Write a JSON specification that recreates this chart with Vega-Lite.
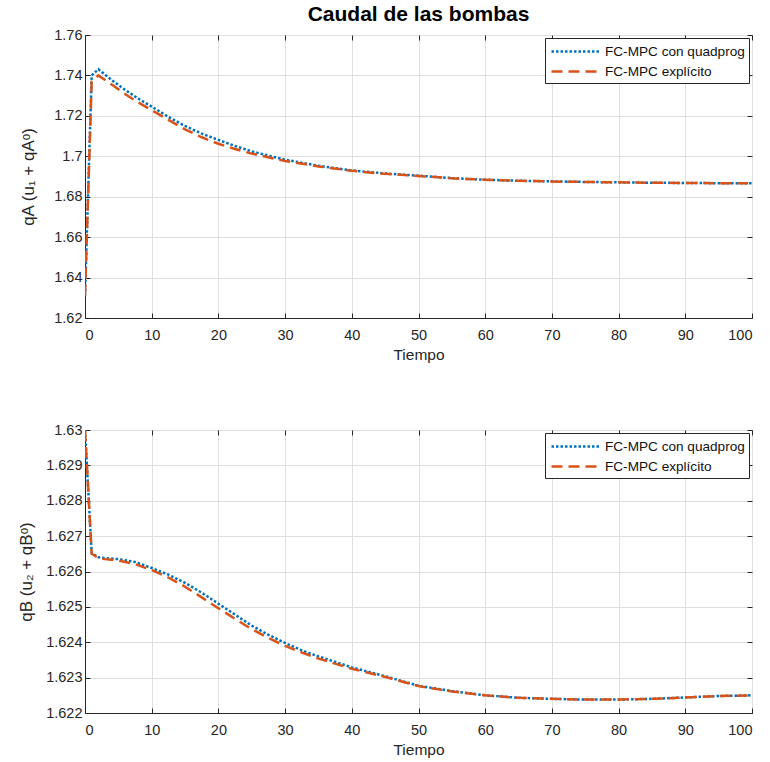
{
  "$schema": "https://vega.github.io/schema/vega-lite/v6.json",
  "background": "white",
  "padding": {"left": 17, "top": 3, "right": 4, "bottom": 4},
  "config": {
    "font": "Liberation Sans",
    "view": {"stroke": "#262626", "strokeWidth": 1},
    "axis": {
      "domainColor": "#262626",
      "tickColor": "#262626",
      "tickSize": -5,
      "labelColor": "#262626",
      "labelFontSize": 14.5,
      "labelFont": "Liberation Sans",
      "titleColor": "#262626",
      "titleFontSize": 15.5,
      "titleFontWeight": "normal",
      "gridColor": "#dfdfdf",
      "gridWidth": 1,
      "labelPadding": 8
    },
    "legend": {
      "orient": "top-right",
      "offset": 3,
      "fillColor": "white",
      "strokeColor": "#262626",
      "padding": 4,
      "rowPadding": 3,
      "symbolType": "M-3,0H3",
      "symbolSize": 256,
      "symbolOffset": 17,
      "symbolStrokeWidth": 2.5,
      "labelFontSize": 13.6,
      "labelColor": "#111111",
      "labelLimit": 300,
      "labelOffset": 20
    }
  },
  "datasets": {
    "top": [
      {"t": 0, "q": 1.631, "s": "FC-MPC con quadprog"},
      {"t": 1, "q": 1.740, "s": "FC-MPC con quadprog"},
      {"t": 2, "q": 1.7431, "s": "FC-MPC con quadprog"},
      {"t": 4, "q": 1.7377, "s": "FC-MPC con quadprog"},
      {"t": 6, "q": 1.7329, "s": "FC-MPC con quadprog"},
      {"t": 8, "q": 1.7285, "s": "FC-MPC con quadprog"},
      {"t": 10, "q": 1.7246, "s": "FC-MPC con quadprog"},
      {"t": 12.5, "q": 1.7195, "s": "FC-MPC con quadprog"},
      {"t": 15, "q": 1.7150, "s": "FC-MPC con quadprog"},
      {"t": 17.5, "q": 1.7112, "s": "FC-MPC con quadprog"},
      {"t": 20, "q": 1.7081, "s": "FC-MPC con quadprog"},
      {"t": 22.5, "q": 1.7051, "s": "FC-MPC con quadprog"},
      {"t": 25, "q": 1.7024, "s": "FC-MPC con quadprog"},
      {"t": 30, "q": 1.6983, "s": "FC-MPC con quadprog"},
      {"t": 35, "q": 1.6953, "s": "FC-MPC con quadprog"},
      {"t": 40, "q": 1.6930, "s": "FC-MPC con quadprog"},
      {"t": 45, "q": 1.6915, "s": "FC-MPC con quadprog"},
      {"t": 50, "q": 1.6904, "s": "FC-MPC con quadprog"},
      {"t": 55, "q": 1.6892, "s": "FC-MPC con quadprog"},
      {"t": 60, "q": 1.6884, "s": "FC-MPC con quadprog"},
      {"t": 65, "q": 1.6879, "s": "FC-MPC con quadprog"},
      {"t": 70, "q": 1.6876, "s": "FC-MPC con quadprog"},
      {"t": 75, "q": 1.6873, "s": "FC-MPC con quadprog"},
      {"t": 80, "q": 1.6871, "s": "FC-MPC con quadprog"},
      {"t": 85, "q": 1.6869, "s": "FC-MPC con quadprog"},
      {"t": 90, "q": 1.6868, "s": "FC-MPC con quadprog"},
      {"t": 95, "q": 1.6867, "s": "FC-MPC con quadprog"},
      {"t": 100, "q": 1.6866, "s": "FC-MPC con quadprog"},
      {"t": 0, "q": 1.631, "s": "FC-MPC explícito"},
      {"t": 1, "q": 1.737, "s": "FC-MPC explícito"},
      {"t": 2, "q": 1.7400, "s": "FC-MPC explícito"},
      {"t": 4, "q": 1.7355, "s": "FC-MPC explícito"},
      {"t": 6, "q": 1.7308, "s": "FC-MPC explícito"},
      {"t": 8, "q": 1.7266, "s": "FC-MPC explícito"},
      {"t": 10, "q": 1.7228, "s": "FC-MPC explícito"},
      {"t": 12.5, "q": 1.7180, "s": "FC-MPC explícito"},
      {"t": 15, "q": 1.7133, "s": "FC-MPC explícito"},
      {"t": 17.5, "q": 1.7094, "s": "FC-MPC explícito"},
      {"t": 20, "q": 1.7062, "s": "FC-MPC explícito"},
      {"t": 22.5, "q": 1.7036, "s": "FC-MPC explícito"},
      {"t": 25, "q": 1.7013, "s": "FC-MPC explícito"},
      {"t": 30, "q": 1.6977, "s": "FC-MPC explícito"},
      {"t": 35, "q": 1.6950, "s": "FC-MPC explícito"},
      {"t": 40, "q": 1.6928, "s": "FC-MPC explícito"},
      {"t": 45, "q": 1.6913, "s": "FC-MPC explícito"},
      {"t": 50, "q": 1.6903, "s": "FC-MPC explícito"},
      {"t": 55, "q": 1.6891, "s": "FC-MPC explícito"},
      {"t": 60, "q": 1.6884, "s": "FC-MPC explícito"},
      {"t": 65, "q": 1.6879, "s": "FC-MPC explícito"},
      {"t": 70, "q": 1.6875, "s": "FC-MPC explícito"},
      {"t": 75, "q": 1.6873, "s": "FC-MPC explícito"},
      {"t": 80, "q": 1.6871, "s": "FC-MPC explícito"},
      {"t": 85, "q": 1.6869, "s": "FC-MPC explícito"},
      {"t": 90, "q": 1.6868, "s": "FC-MPC explícito"},
      {"t": 95, "q": 1.6867, "s": "FC-MPC explícito"},
      {"t": 100, "q": 1.6866, "s": "FC-MPC explícito"}
    ],
    "bottom": [
      {"t": 0, "q": 1.6300, "s": "FC-MPC con quadprog"},
      {"t": 1, "q": 1.62652, "s": "FC-MPC con quadprog"},
      {"t": 2, "q": 1.62640, "s": "FC-MPC con quadprog"},
      {"t": 3, "q": 1.62638, "s": "FC-MPC con quadprog"},
      {"t": 5, "q": 1.62635, "s": "FC-MPC con quadprog"},
      {"t": 7.5, "q": 1.62627, "s": "FC-MPC con quadprog"},
      {"t": 10, "q": 1.62610, "s": "FC-MPC con quadprog"},
      {"t": 12.5, "q": 1.62591, "s": "FC-MPC con quadprog"},
      {"t": 15, "q": 1.62568, "s": "FC-MPC con quadprog"},
      {"t": 17.5, "q": 1.62540, "s": "FC-MPC con quadprog"},
      {"t": 20, "q": 1.62509, "s": "FC-MPC con quadprog"},
      {"t": 22.5, "q": 1.62478, "s": "FC-MPC con quadprog"},
      {"t": 25, "q": 1.62447, "s": "FC-MPC con quadprog"},
      {"t": 27.5, "q": 1.62421, "s": "FC-MPC con quadprog"},
      {"t": 30, "q": 1.62398, "s": "FC-MPC con quadprog"},
      {"t": 32.5, "q": 1.62377, "s": "FC-MPC con quadprog"},
      {"t": 35, "q": 1.62360, "s": "FC-MPC con quadprog"},
      {"t": 40, "q": 1.62329, "s": "FC-MPC con quadprog"},
      {"t": 45, "q": 1.62304, "s": "FC-MPC con quadprog"},
      {"t": 50, "q": 1.62277, "s": "FC-MPC con quadprog"},
      {"t": 55, "q": 1.62262, "s": "FC-MPC con quadprog"},
      {"t": 60, "q": 1.62250, "s": "FC-MPC con quadprog"},
      {"t": 65, "q": 1.62243, "s": "FC-MPC con quadprog"},
      {"t": 70, "q": 1.62240, "s": "FC-MPC con quadprog"},
      {"t": 75, "q": 1.62238, "s": "FC-MPC con quadprog"},
      {"t": 80, "q": 1.62238, "s": "FC-MPC con quadprog"},
      {"t": 85, "q": 1.62240, "s": "FC-MPC con quadprog"},
      {"t": 90, "q": 1.62244, "s": "FC-MPC con quadprog"},
      {"t": 95, "q": 1.62248, "s": "FC-MPC con quadprog"},
      {"t": 100, "q": 1.62250, "s": "FC-MPC con quadprog"},
      {"t": 0, "q": 1.6300, "s": "FC-MPC explícito"},
      {"t": 1, "q": 1.62650, "s": "FC-MPC explícito"},
      {"t": 2, "q": 1.62638, "s": "FC-MPC explícito"},
      {"t": 3, "q": 1.62635, "s": "FC-MPC explícito"},
      {"t": 5, "q": 1.62631, "s": "FC-MPC explícito"},
      {"t": 7.5, "q": 1.62621, "s": "FC-MPC explícito"},
      {"t": 10, "q": 1.62604, "s": "FC-MPC explícito"},
      {"t": 12.5, "q": 1.62583, "s": "FC-MPC explícito"},
      {"t": 15, "q": 1.62557, "s": "FC-MPC explícito"},
      {"t": 17.5, "q": 1.62527, "s": "FC-MPC explícito"},
      {"t": 20, "q": 1.62496, "s": "FC-MPC explícito"},
      {"t": 22.5, "q": 1.62466, "s": "FC-MPC explícito"},
      {"t": 25, "q": 1.62437, "s": "FC-MPC explícito"},
      {"t": 27.5, "q": 1.62412, "s": "FC-MPC explícito"},
      {"t": 30, "q": 1.62390, "s": "FC-MPC explícito"},
      {"t": 32.5, "q": 1.62371, "s": "FC-MPC explícito"},
      {"t": 35, "q": 1.62354, "s": "FC-MPC explícito"},
      {"t": 40, "q": 1.62325, "s": "FC-MPC explícito"},
      {"t": 45, "q": 1.62302, "s": "FC-MPC explícito"},
      {"t": 50, "q": 1.62276, "s": "FC-MPC explícito"},
      {"t": 55, "q": 1.62261, "s": "FC-MPC explícito"},
      {"t": 60, "q": 1.62250, "s": "FC-MPC explícito"},
      {"t": 65, "q": 1.62243, "s": "FC-MPC explícito"},
      {"t": 70, "q": 1.62240, "s": "FC-MPC explícito"},
      {"t": 75, "q": 1.62238, "s": "FC-MPC explícito"},
      {"t": 80, "q": 1.62238, "s": "FC-MPC explícito"},
      {"t": 85, "q": 1.62240, "s": "FC-MPC explícito"},
      {"t": 90, "q": 1.62244, "s": "FC-MPC explícito"},
      {"t": 95, "q": 1.62248, "s": "FC-MPC explícito"},
      {"t": 100, "q": 1.62250, "s": "FC-MPC explícito"}
    ]
  },
  "spacing": 57,
  "vconcat": [
    {
      "title": {"text": "Caudal de las bombas", "fontSize": 21, "fontWeight": "bold", "color": "#000000", "anchor": "middle", "offset": 2},
      "width": 667,
      "height": 283,
      "data": {"name": "top"},
      "layer": [
        {
          "mark": {"type": "line", "strokeWidth": 2.5, "interpolate": "linear", "clip": true},
          "encoding": {
            "x": {"field": "t", "type": "quantitative", "title": "Tiempo",
                  "scale": {"domain": [0, 100], "nice": false},
                  "axis": {"values": [0, 10, 20, 30, 40, 50, 60, 70, 80, 90, 100], "titlePadding": 6, "labelPadding": 15}},
            "y": {"field": "q", "type": "quantitative", "title": "qA (u₁ + qAᵒ)",
                  "scale": {"domain": [1.62, 1.76], "nice": false, "zero": false},
                  "axis": {"values": [1.62, 1.64, 1.66, 1.68, 1.7, 1.72, 1.74, 1.76], "format": ".2~f", "titlePadding": 16, "titleFontSize": 17}},
            "color": {"field": "s", "type": "nominal", "title": null,
                      "scale": {"domain": ["FC-MPC con quadprog", "FC-MPC explícito"], "range": ["#0072BD", "#D95319"]}},
            "strokeDash": {"field": "s", "type": "nominal", "title": null,
                      "scale": {"domain": ["FC-MPC con quadprog", "FC-MPC explícito"], "range": [[2.5, 2], [11, 6]]}}
          }
        },
        {
          "mark": {"type": "point", "opacity": 0},
          "encoding": {
            "x": {"field": "t", "type": "quantitative",
                  "axis": {"orient": "top", "values": [0, 10, 20, 30, 40, 50, 60, 70, 80, 90, 100], "labels": false, "grid": false, "title": null, "domain": false}},
            "y": {"field": "q", "type": "quantitative",
                  "axis": {"orient": "right", "values": [1.62, 1.64, 1.66, 1.68, 1.7, 1.72, 1.74, 1.76], "labels": false, "grid": false, "title": null, "domain": false}}
          }
        }
      ],
      "resolve": {"axis": {"x": "independent", "y": "independent"}}
    },
    {
      "width": 667,
      "height": 283,
      "data": {"name": "bottom"},
      "layer": [
        {
          "mark": {"type": "line", "strokeWidth": 2.5, "interpolate": "linear", "clip": true},
          "encoding": {
            "x": {"field": "t", "type": "quantitative", "title": "Tiempo",
                  "scale": {"domain": [0, 100], "nice": false},
                  "axis": {"values": [0, 10, 20, 30, 40, 50, 60, 70, 80, 90, 100], "titlePadding": 6, "labelPadding": 15}},
            "y": {"field": "q", "type": "quantitative", "title": "qB (u₂ + qBᵒ)",
                  "scale": {"domain": [1.622, 1.63], "nice": false, "zero": false},
                  "axis": {"values": [1.622, 1.623, 1.624, 1.625, 1.626, 1.627, 1.628, 1.629, 1.63], "format": ".3~f", "titlePadding": 10, "titleFontSize": 17}},
            "color": {"field": "s", "type": "nominal", "title": null,
                      "scale": {"domain": ["FC-MPC con quadprog", "FC-MPC explícito"], "range": ["#0072BD", "#D95319"]}},
            "strokeDash": {"field": "s", "type": "nominal", "title": null,
                      "scale": {"domain": ["FC-MPC con quadprog", "FC-MPC explícito"], "range": [[2.5, 2], [11, 6]]}}
          }
        },
        {
          "mark": {"type": "point", "opacity": 0},
          "encoding": {
            "x": {"field": "t", "type": "quantitative",
                  "axis": {"orient": "top", "values": [0, 10, 20, 30, 40, 50, 60, 70, 80, 90, 100], "labels": false, "grid": false, "title": null, "domain": false}},
            "y": {"field": "q", "type": "quantitative",
                  "axis": {"orient": "right", "values": [1.622, 1.623, 1.624, 1.625, 1.626, 1.627, 1.628, 1.629, 1.63], "labels": false, "grid": false, "title": null, "domain": false}}
          }
        }
      ],
      "resolve": {"axis": {"x": "independent", "y": "independent"}}
    }
  ],
  "resolve": {"scale": {"color": "independent", "strokeDash": "independent", "y": "independent"}, "legend": {"color": "independent", "strokeDash": "independent"}}
}
